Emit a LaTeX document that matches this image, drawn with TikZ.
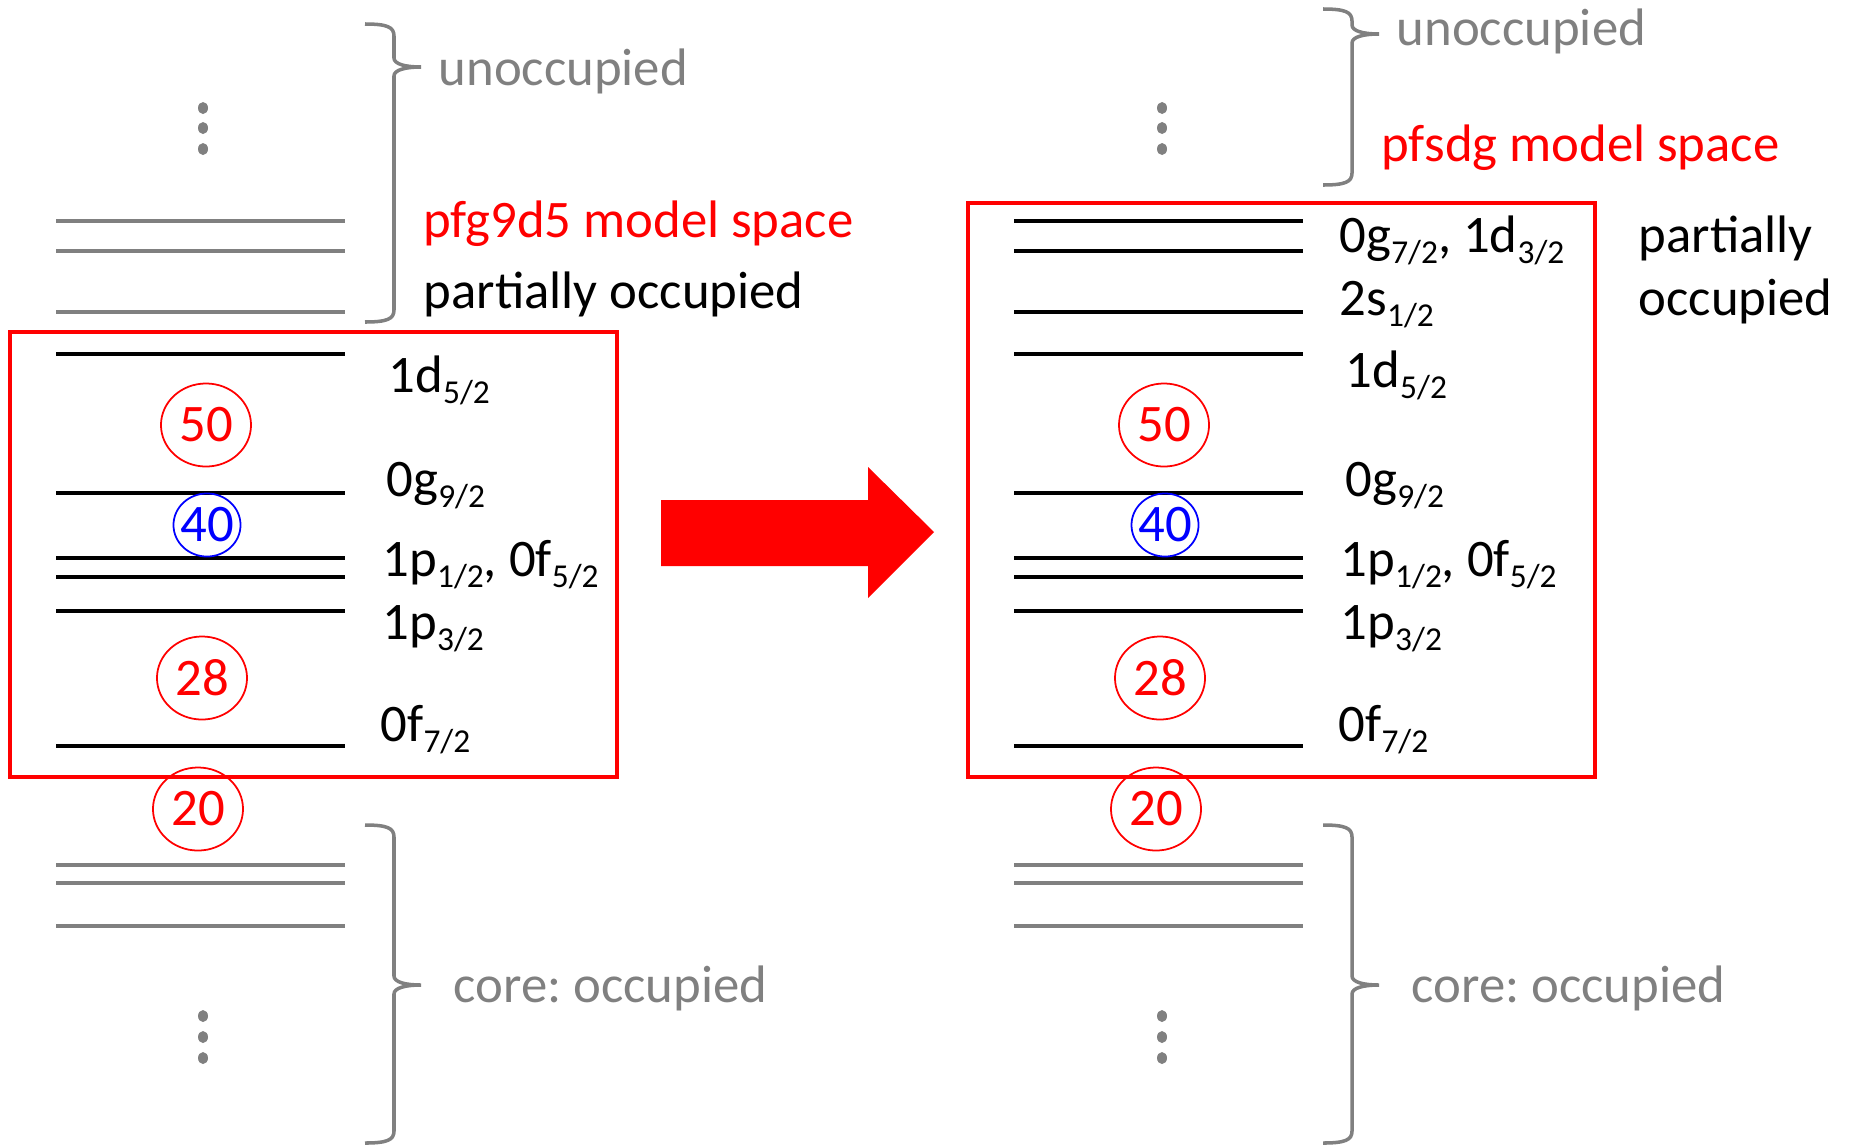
\documentclass[tikz,border=0pt]{standalone}
\usepackage{fontspec}
\setmainfont{Carlito}
\usetikzlibrary{shapes.geometric}
\newcommand{\lsub}[1]{\raisebox{-3.2pt}{\fontsize{9.5}{10}\selectfont #1}}
\frenchspacing

\begin{document}
\begin{tikzpicture}[
    x=0.01cm, y=-0.01cm,
    txt/.style     ={font=\fontsize{15}{18}\selectfont, inner sep=0pt, anchor=base west},
    graytxt/.style ={txt, text=gray},
    redtxt/.style  ={txt, text=red},
    lvl/.style     ={line width=1pt},
    corelvl/.style ={lvl, draw=gray},
    magic/.style   ={ellipse, draw=red, text=red, line width=0.5pt, inner sep=0pt,
                     minimum width=0.9cm, minimum height=0.83cm,
                     font=\fontsize{15}{18}\selectfont},
    submagic/.style={magic, draw=blue, text=blue, inner xsep=-0.05cm,
                     minimum width=0.67cm, minimum height=0.63cm},
    spacebox/.style={draw=red, line width=1.3pt},
    brc/.style     ={draw=gray, line width=1pt}
]
\useasboundingbox (0,0) rectangle (1849,1145);

%% ── Braces (x, top, tip, bottom) ─────────────────────────────────
\foreach \x/\t/\m/\b in {365/24/67/322, 365/825/985/1143, 1323/9/34/185, 1323/825/985/1143}
    \draw[brc] (\x,\t) .. controls (\x+22,\t) and (\x+29,\t+3) .. (\x+29,\t+12)
        -- (\x+29,\m-9) .. controls (\x+29,\m-3) and (\x+40,\m) .. (\x+56,\m)
        .. controls (\x+40,\m) and (\x+29,\m+3) .. (\x+29,\m+9)
        -- (\x+29,\b-12) .. controls (\x+29,\b-3) and (\x+22,\b) .. (\x,\b);

%% ── Dots ─────────────────────────────────────────────────────────
\foreach \x in {203, 1162}
    \foreach \y in {108, 128, 149, 1016, 1037, 1058}
        \fill[gray] (\x,\y) ellipse (5 and 6);

%% ── Left: pfg9d5 ─────────────────────────────────────────────────
\foreach \y in {221, 251, 312, 865, 883, 926}
    \draw[corelvl] (56,\y) -- (345,\y);
\foreach \y in {354, 493, 558, 577, 611, 746}
    \draw[lvl] (56,\y) -- (345,\y);
\draw[spacebox] (10,332) rectangle (617,777);

\node[graytxt] (unoccL) at (438,85)   {unoccupied};
\node[redtxt]  (spaceL) at (423,237)  {pfg9d5 model space};
\node[txt]     (partL)  at (423,308)  {partially occupied};
\node[graytxt] (coreL)  at (453,1002) {core: occupied};

\node[txt] (d52L)  at (388,392) {1d\lsub{5/2}};
\node[txt] (g92L)  at (386,496) {0g\lsub{9/2}};
\node[txt] (p12L)  at (382,576) {1p\lsub{1/2}, 0f\lsub{5/2}};
\node[txt] (p32L)  at (382,639) {1p\lsub{3/2}};
\node[txt] (f72L)  at (380,741) {0f\lsub{7/2}};

\node[magic]    (n50L) at (206,425) {50};
\node[submagic] (n40L) at (207,525) {40};
\node[magic]    (n28L) at (202,678) {28};
\node[magic]    (n20L) at (198,809) {20};

%% ── Arrow ────────────────────────────────────────────────────────
\fill[red] (661,500) -- (868,500) -- (868,467) -- (934,532)
    -- (868,598) -- (868,566) -- (661,566) -- cycle;

%% ── Right: pfsdg ─────────────────────────────────────────────────
\foreach \y in {865, 883, 926}
    \draw[corelvl] (1014,\y) -- (1303,\y);
\foreach \y in {221, 251, 312, 354, 493, 558, 577, 611, 746}
    \draw[lvl] (1014,\y) -- (1303,\y);
\draw[spacebox] (968,203) rectangle (1595,777);

\node[graytxt] (unoccR) at (1396,45)   {unoccupied};
\node[redtxt]  (spaceR) at (1381,161)  {pfsdg model space};
\node[txt]     (partR)  at (1638,252)  {partially};
\node[txt]     (occR)   at (1638,315)  {occupied};
\node[graytxt] (coreR)  at (1411,1002) {core: occupied};

\node[txt] (g72R)  at (1339,252) {0g\lsub{7/2}, 1d\lsub{3/2}};
\node[txt] (s12R)  at (1339,315) {2s\lsub{1/2}};
\node[txt] (d52R)  at (1345,387) {1d\lsub{5/2}};
\node[txt] (g92R)  at (1345,496) {0g\lsub{9/2}};
\node[txt] (p12R)  at (1340,576) {1p\lsub{1/2}, 0f\lsub{5/2}};
\node[txt] (p32R)  at (1340,639) {1p\lsub{3/2}};
\node[txt] (f72R)  at (1338,741) {0f\lsub{7/2}};

\node[magic]    (n50R) at (1164,425) {50};
\node[submagic] (n40R) at (1165,525) {40};
\node[magic]    (n28R) at (1160,678) {28};
\node[magic]    (n20R) at (1156,809) {20};

\end{tikzpicture}
\end{document}
